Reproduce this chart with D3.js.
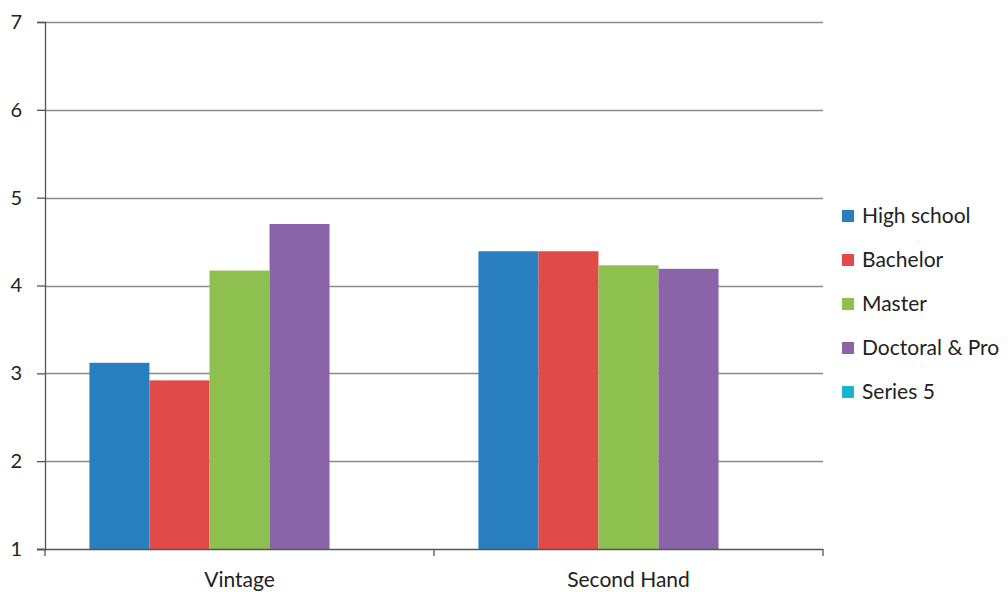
<!DOCTYPE html>
<html><head><meta charset="utf-8">
<script src="https://cdn.jsdelivr.net/npm/d3@7"></script>
<style>body{margin:0;background:#fff}svg{display:block}text{font-family:Lato,"Open Sans",sans-serif;fill:#222}</style>
</head><body>
<script>
const categories = ["Vintage", "Second Hand"];
const seriesNames = ["High school", "Bachelor", "Master", "Doctoral & Pro", "Series 5"];
const highSchool = [3.12, 4.39];
const bachelor = [2.92, 4.39];
const master = [4.17, 4.23];
const doctoral = [4.70, 4.19];
const series5 = [null, null];
const yTicks = [1, 2, 3, 4, 5, 6, 7];
const colors = ["#2a7fc1", "#e04b47", "#8dc04f", "#8a63a9", "#18b4cf"];

(function () {
const allSeries = [highSchool, bachelor, master, doctoral, series5];
const W = 1008, H = 592;
const mLeft = 45, mRight = 823, mTop = 22, mBottom = 549;

const svg = d3.select("body").append("svg").attr("width", W).attr("height", H);
const y = d3.scaleLinear().domain([1, 7]).range([mBottom, mTop]);
const x0 = d3.scaleBand().domain(categories).range([mLeft, mRight]).paddingInner(0).paddingOuter(0);
const x1 = d3.scaleBand().domain(seriesNames).range([0, x0.bandwidth()]).paddingOuter(0.74).paddingInner(0);

// gridlines
svg.append("g").selectAll("line").data(yTicks.slice(1)).join("line")
  .attr("x1", mLeft).attr("x2", mRight)
  .attr("y1", d => Math.round(y(d)) + 0.5).attr("y2", d => Math.round(y(d)) + 0.5)
  .attr("stroke", "#8a8a8a").attr("stroke-width", 1.5);

// bars
const g = svg.append("g");
seriesNames.forEach((s, i) => {
  g.selectAll(null).data(categories.map((c, j) => ({c, v: allSeries[i][j]})).filter(d => d.v != null))
    .join("rect")
    .attr("x", d => x0(d.c) + x1(s))
    .attr("width", x1.bandwidth())
    .attr("y", d => y(d.v))
    .attr("height", d => y(1) - y(d.v))
    .attr("fill", colors[i]);
});

// y axis
const yAxis = d3.axisLeft(y).tickValues(yTicks).tickSize(8).tickPadding(15).tickFormat(d3.format("d"));
const ya = svg.append("g").attr("transform", `translate(${mLeft},0)`).call(yAxis);
ya.select(".domain").attr("stroke", "#555").attr("stroke-width", 1.3);
ya.selectAll(".tick line").attr("stroke", "#555").attr("stroke-width", 1.3);
ya.selectAll("text").attr("font-size", 20).attr("font-family", "Lato, sans-serif").attr("fill", "#222");

// x axis
const xa = svg.append("g").attr("transform", `translate(0,${mBottom})`);
xa.append("line").attr("x1", mLeft - 8).attr("x2", mRight).attr("y1", 0.5).attr("y2", 0.5).attr("stroke", "#555").attr("stroke-width", 1.3);
const boundaries = [mLeft, ...categories.map(c => x0(c) + x0.bandwidth())];
xa.selectAll(".bt").data(boundaries).join("line").attr("class", "bt")
  .attr("x1", d => d).attr("x2", d => d).attr("y1", 0).attr("y2", 7)
  .attr("stroke", "#555").attr("stroke-width", 1.3);
xa.selectAll(".cl").data(categories).join("text").attr("class", "cl")
  .attr("x", d => x0(d) + x0.bandwidth() / 2).attr("y", 38)
  .attr("text-anchor", "middle").attr("font-size", 21).text(d => d);

// legend
const lg = svg.append("g");
seriesNames.forEach((s, i) => {
  const yy = 210 + i * 44;
  lg.append("rect").attr("x", 842).attr("y", yy).attr("width", 12).attr("height", 12).attr("fill", colors[i]);
  lg.append("text").attr("x", 862).attr("y", yy + 13).attr("font-size", 21).text(s);
});
})();
</script>
</body></html>
